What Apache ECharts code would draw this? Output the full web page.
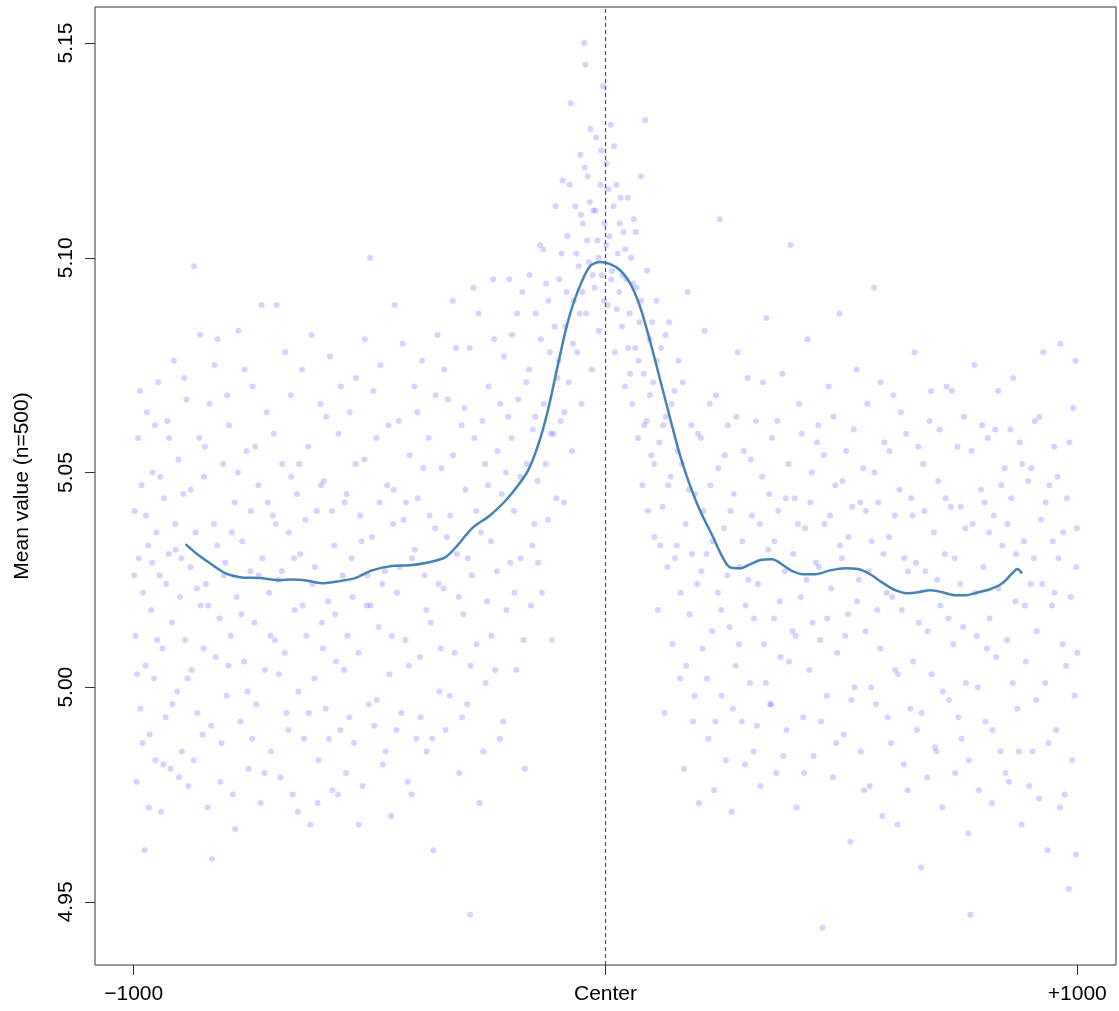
<!DOCTYPE html>
<html>
<head>
<meta charset="utf-8">
<title>Mean value profile</title>
<script src="https://cdn.jsdelivr.net/npm/echarts@6/dist/echarts.min.js"></script>
<style>
  html, body { margin: 0; padding: 0; background: #fff; }
  #main { width: 1119px; height: 1011px; }
</style>
</head>
<body>
<div id="main"></div>
<script>
// x ticks (position from center) and their labels
var xTicks = [-1000, 0, 1000];
var xTickLabels = ['\u22121000', 'Center', '+1000'];
var yTicks = [4.95, 5.00, 5.05, 5.10, 5.15];

// smoothed profile
var lineX = [-890, -868, -839, -805, -775, -733, -690, -663, -637, -601, -563, -531, -495, -453, -415, -373,
    -339, -313, -283, -245, -213, -188, -164, -143, -122, -101, -80, -58, -33, -12, 10, 31, 52, 73, 94, 116,
    137, 158, 179, 200, 226, 247, 264, 285, 306, 328, 353, 374, 396, 419, 444, 476, 508, 535, 561, 586, 614,
    639, 663, 688, 714, 741, 763, 790, 815, 841, 862, 873, 883];
var lineY = [5.0333, 5.0312, 5.0289, 5.0265, 5.0256, 5.0254, 5.0249, 5.0251, 5.0249, 5.0242, 5.0247, 5.0254,
    5.0272, 5.0282, 5.0284, 5.0291, 5.0303, 5.0331, 5.0370, 5.0400, 5.0433, 5.0466, 5.0505, 5.0563, 5.0645,
    5.0750, 5.0850, 5.0924, 5.0980, 5.0990, 5.0985, 5.0971, 5.0941, 5.0887, 5.0808, 5.0715, 5.0626, 5.0540,
    5.0470, 5.0412, 5.0354, 5.0305, 5.0279, 5.0277, 5.0286, 5.0296, 5.0298, 5.0286, 5.0270, 5.0263, 5.0263,
    5.0272, 5.0277, 5.0275, 5.0263, 5.0244, 5.0226, 5.0219, 5.0221, 5.0226, 5.0221, 5.0214, 5.0214, 5.0221,
    5.0228, 5.0242, 5.0265, 5.0275, 5.0265];

// raw points (position, mean value), estimated from the cloud
var pointsA = [
  [-998,5.041],[-996,5.012],[-994,4.978],[-991,5.058],[-989,5.030],[-986,4.995],[-983,5.047],[-980,5.022],[-977,4.962],[-975,5.005],[-972,5.064],[-969,5.033],[-966,4.989],[-963,5.018],[-960,5.050],[-957,5.002],[-954,4.983],[-952,5.036],
  [-948,5.071],[-945,5.026],[-942,4.971],[-939,5.009],[-936,5.044],[-932,4.993],[-929,5.062],[-926,5.031],[-922,4.981],[-919,5.015],[-915,5.076],[-912,5.038],[-908,4.999],[-905,5.053],[-902,5.021],
  [-898,4.985],[-895,5.045],[-891,5.011],[-888,5.067],[-884,4.977],[-880,5.028],[-877,5.004],[-872,5.098],[-869,5.036],[-865,4.994],[-861,5.058],[-858,5.019],[-854,4.989],[-851,5.049],
  [-847,5.024],[-843,4.972],[-839,5.066],[-834,4.960],[-830,5.038],[-826,5.007],[-822,5.081],[-818,5.016],[-814,4.987],[-810,5.052],[-806,5.029],[-803,4.998],
  [-798,5.061],[-794,5.012],[-790,4.975],[-786,5.043],[-782,5.021],[-778,5.083],[-774,4.992],[-770,5.034],[-766,5.006],[-761,5.055],[-757,4.981],[-753,5.027],
  [-748,5.070],[-744,5.015],[-740,4.996],[-736,5.047],[-731,4.973],[-727,5.030],[-722,5.004],[-718,5.064],[-713,5.022],[-709,4.985],[-705,5.040],[-701,5.011],
  [-697,5.089],[-693,5.025],[-689,4.979],[-685,5.052],[-680,5.008],[-676,4.994],[-671,5.036],[-667,5.068],[-663,4.975],[-659,5.018],[-654,5.045],[-651,4.999],
  [-647,5.031],[-643,5.074],[-639,4.988],[-634,5.012],[-630,5.056],[-626,4.968],[-621,5.024],[-617,5.002],[-612,5.041],[-608,4.983],[-604,5.066],[-601,5.015],
  [-597,5.048],[-593,4.995],[-588,5.020],[-584,5.077],[-579,4.976],[-575,5.033],[-571,5.006],[-566,5.059],[-562,4.990],[-557,5.026],[-553,5.043],[-550,4.980],
  [-547,5.012],[-542,5.064],[-538,5.030],[-533,4.987],[-529,5.072],[-524,5.008],[-520,5.040],[-515,4.977],[-511,5.053],[-506,5.019],[-502,4.996],
  [-499,5.100],[-495,5.035],[-490,4.991],[-486,5.058],[-481,5.014],[-477,5.075],[-472,4.982],[-467,5.027],[-463,5.047],[-458,5.003],[-454,4.970],[-450,5.038],
  [-447,5.089],[-442,5.022],[-438,5.062],[-433,4.994],[-428,5.039],[-424,5.011],[-419,4.978],[-415,5.054],[-410,5.030],[-405,5.070],[-401,4.988],
  [-398,5.044],[-393,5.007],[-389,5.076],[-384,5.026],[-379,4.985],[-375,5.058],[-370,5.015],[-365,4.962],[-361,5.037],[-356,5.082],[-352,4.999],
  [-348,5.051],[-343,5.023],[-339,4.990],[-334,5.067],[-329,5.040],[-324,5.090],[-320,5.008],[-315,5.031],[-310,4.980],[-305,5.061],[-301,5.017],
  [-297,5.046],[-293,4.996],[-288,5.079],[-287,4.947],[-283,5.026],[-278,5.058],[-273,5.010],[-269,5.087],[-264,5.036],[-259,4.985],[-255,5.052],[-251,5.020],
  [-248,5.070],[-243,5.034],[-238,5.095],[-234,5.004],[-229,5.055],[-224,4.988],[-220,5.045],[-215,5.077],[-210,5.018],[-206,5.063],[-202,5.029],
  [-198,5.082],[-194,5.041],[-189,5.004],[-185,5.067],[-180,5.030],[-176,5.092],[-171,4.981],[-167,5.052],[-162,5.074],[-158,5.019],[-154,5.060],[-151,5.038],
  [-148,5.087],[-144,5.048],[-139,5.103],[-135,5.022],[-131,5.066],[-126,5.094],[-122,5.039],[-118,5.078],[-114,5.011],[-110,5.059],[-106,5.112],[-102,5.072],
  [-98,5.095],[-95,5.062],[-91,5.118],[-88,5.043],[-85,5.084],[-81,5.105],[-78,5.071],[-74,5.136],[-71,5.055],[-67,5.090],[-64,5.112],[-60,5.078],[-57,5.098],[-53,5.124],[-51,5.066],
  [-48,5.108],[-45,5.150],[-43,5.145],[-41,5.087],[-38,5.119],[-35,5.099],[-32,5.130],[-29,5.074],[-26,5.111],[-23,5.093],[-20,5.128],[-17,5.104],[-14,5.083],[-11,5.117],[-8,5.096],[-5,5.140],[-2,5.108],
  [2,5.122],[5,5.089],[8,5.105],[11,5.131],[14,5.097],[17,5.112],[20,5.078],[23,5.117],[26,5.101],[29,5.092],[32,5.114],[35,5.084],[38,5.106],[41,5.070],[44,5.095],[47,5.114],
  [51,5.087],[54,5.100],[57,5.066],[60,5.109],[63,5.079],[66,5.093],[69,5.058],[72,5.085],[75,5.119],[78,5.047],[81,5.073],[84,5.132],[87,5.062],[90,5.041],[93,5.081],[97,5.054],
  [101,5.071],[104,5.035],[108,5.090],[111,5.018],[114,5.057],[118,5.079],[121,5.042],[125,4.994],[128,5.063],[131,5.028],[135,5.085],[138,5.049],[142,5.010],[146,5.069],
  [151,5.033],[155,5.076],[158,5.002],[162,5.052],[166,4.981],[170,5.038],[174,5.092],[178,5.017],[182,5.061],[186,4.992],[190,5.045],[194,5.024],[198,4.973],
  [202,5.058],[206,5.009],[210,5.083],[214,5.031],[218,4.988],[222,5.047],[226,5.013],[230,4.976],[234,5.068],[238,5.022],[242,5.109],[246,4.998],
  [251,5.037],[255,4.983],[259,5.061],[263,5.014],[267,4.971],[272,5.045],[276,5.005],[280,5.078],[284,5.028],[289,4.992],[293,5.055],[297,5.019],
  [301,5.072],[306,5.001],[310,5.040],[314,4.985],[319,5.062],[323,5.024],[328,4.977],[332,5.049],[336,5.010],[341,5.086],[345,5.032],[349,4.996],
  [353,5.058],[357,5.016],[362,4.980],[366,5.041],[371,5.007],[375,5.073],[380,5.027],[384,4.990],[388,5.052],[392,5.103],[396,5.013],
  [401,5.044],[405,4.972],[410,5.066],[414,5.021],[419,4.993],[423,5.037],[428,5.081],[432,5.004],[437,5.050],[441,4.984],[446,5.029],
  [451,5.061],[455,5.011],[460,4.944],[464,5.038],[469,4.998],[473,5.070],[478,5.023],[482,4.979],[487,5.047],[491,5.008],[496,5.087],
  [501,5.030],[505,4.989],[510,5.055],[514,5.017],[519,4.964],[523,5.042],[528,5.000],[532,5.074],[537,5.025],[541,4.985],[546,5.051],
  [551,5.013],[555,5.066],[560,4.977],[564,5.034],[569,5.093],[573,4.996],[578,5.043],[582,5.009],[587,4.970],[591,5.057],[596,5.022],
  [601,5.035],[605,4.987],[610,5.068],[614,5.004],[619,4.968],[623,5.046],[628,5.018],[632,4.982],[637,5.059],[641,5.027],[646,4.995],
  [651,5.040],[655,5.078],[660,4.990],[664,5.015],[669,4.958],[673,5.052],[678,5.027],[682,4.979],[687,5.062],[691,5.003],[696,5.036],
  [701,4.985],[705,5.048],[710,5.019],[714,4.972],[719,5.031],[723,5.070],[728,4.997],[732,5.042],[737,5.010],[741,4.980],[746,5.056],
  [751,5.024],[755,4.988],[760,5.063],[764,5.001],[769,4.966],[773,4.947],[778,5.038],[782,5.075],[787,5.012],[791,4.976],[796,5.046],
  [801,5.028],[805,4.992],[810,5.058],[814,5.016],[819,4.973],[823,5.040],[828,5.007],[832,5.069],[837,4.985],[841,5.033],[846,5.051],
  [851,5.011],[855,4.978],[860,5.044],[864,5.072],[869,5.020],[873,4.995],[878,5.057],[882,4.968],[887,5.034],[891,5.006],[896,5.048],
  [901,5.024],[905,4.985],[910,5.062],[914,5.013],[919,4.974],[923,5.039],[928,5.078],[932,5.001],[937,4.962],[941,5.047],[946,5.019],
  [951,5.056],[955,4.990],[960,5.030],[964,5.080],[969,5.010],[973,4.975],[978,5.044],[982,4.953],[986,5.021],[991,5.065],[994,4.998],[997,4.961],[999,5.037],[1000,5.008]
];

// more points from the same cloud
var pointsB = [
  [-999,5.026],[-993,5.003],[-987,5.069],[-981,4.987],[-974,5.040],[-968,4.972],[-961,5.029],[-955,5.061],
  [-950,5.011],[-944,5.049],[-937,4.982],[-931,5.024],[-925,5.058],[-918,4.996],[-911,5.032],[-904,4.979],
  [-899,5.030],[-893,5.072],[-886,5.002],[-879,5.046],[-873,4.983],[-866,5.023],[-859,5.082],[-852,5.009],
  [-849,5.056],[-842,5.019],[-836,4.991],[-829,5.075],[-823,5.033],[-816,4.978],[-809,5.026],[-802,5.068],
  [-799,5.005],[-792,5.036],[-785,4.967],[-779,5.050],[-772,5.017],[-765,5.074],[-759,4.999],[-752,5.041],
  [-749,4.988],[-742,5.056],[-735,5.026],[-729,5.089],[-723,4.980],[-716,5.043],[-710,5.012],[-703,5.059],
  [-699,5.038],[-692,5.003],[-686,5.027],[-679,5.078],[-672,4.990],[-666,5.049],[-660,5.030],[-652,4.971],
  [-649,5.052],[-642,5.019],[-636,5.039],[-629,4.994],[-623,5.082],[-616,5.028],[-610,4.973],[-603,5.047],
  [-599,5.009],[-592,5.063],[-586,4.988],[-580,5.041],[-573,5.017],[-567,4.975],[-561,5.070],[-554,5.004],
  [-549,5.045],[-543,4.993],[-536,5.021],[-530,5.052],[-523,4.968],[-517,5.034],[-510,5.081],[-504,5.026],
  [-498,5.019],[-492,5.069],[-485,4.997],[-479,5.043],[-473,5.024],[-466,4.985],[-460,5.061],[-453,5.012],
  [-449,5.046],[-443,4.990],[-436,5.028],[-430,5.080],[-423,5.043],[-417,5.005],[-411,4.975],[-404,5.032],
  [-399,5.064],[-392,4.993],[-386,5.051],[-380,5.018],[-373,5.040],[-367,4.988],[-360,5.068],[-354,5.024],
  [-349,5.009],[-342,5.074],[-336,5.035],[-330,4.998],[-323,5.054],[-317,5.079],[-311,5.021],[-304,4.993],
  [-299,5.065],[-292,5.030],[-286,5.005],[-280,5.093],[-274,5.041],[-267,4.973],[-261,5.062],[-254,5.001],
  [-249,5.047],[-242,5.012],[-236,5.081],[-230,5.027],[-223,5.066],[-217,4.992],[-211,5.050],[-204,5.095],
  [-199,5.058],[-193,5.022],[-187,5.087],[-181,5.049],[-174,5.011],[-168,5.071],[-161,5.096],[-155,5.033],
  [-149,5.063],[-143,5.029],[-137,5.081],[-132,5.102],[-127,5.052],[-121,5.090],[-116,5.059],[-108,5.084],[-104,5.044],
  [-99,5.076],[-93,5.101],[-87,5.064],[-83,5.092],[-76,5.117],[-69,5.080],[-62,5.101],[-55,5.087],[-52,5.110],
  [-49,5.092],[-44,5.121],[-39,5.104],[-33,5.113],[-27,5.096],[-21,5.111],[-15,5.100],[-9,5.125],[-3,5.090],
  [1,5.103],[6,5.116],[12,5.095],[18,5.126],[24,5.088],[30,5.108],[36,5.096],[42,5.102],[48,5.079],
  [52,5.073],[58,5.094],[64,5.106],[70,5.076],[76,5.090],[82,5.061],[88,5.097],[94,5.068],[99,5.085],
  [103,5.052],[109,5.076],[116,5.033],[122,5.061],[127,5.082],[133,5.047],[140,5.066],[147,5.030],
  [153,5.055],[159,5.022],[164,5.071],[171,5.005],[177,5.046],[183,5.031],[189,4.998],[196,5.059],
  [203,5.027],[208,5.041],[215,5.002],[221,5.066],[227,5.034],[233,4.992],[239,5.051],[245,5.018],
  [253,5.054],[258,5.026],[265,5.041],[270,4.995],[277,5.063],[283,5.010],[290,5.034],[296,4.982],
  [303,5.025],[308,5.053],[315,5.016],[321,4.991],[327,5.038],[334,5.071],[340,5.001],[347,5.045],
  [351,4.996],[358,5.034],[364,5.062],[369,5.020],[377,4.984],[382,5.044],[389,5.006],[398,5.031],
  [403,5.012],[408,5.038],[416,5.059],[421,4.980],[426,5.025],[434,5.043],[439,5.015],[448,5.057],
  [452,5.028],[457,4.992],[463,5.054],[470,5.016],[476,5.040],[483,5.063],[489,4.987],[497,5.033],
  [502,5.048],[508,5.012],[515,5.035],[521,4.997],[526,5.060],[533,5.020],[540,5.043],[548,4.976],
  [552,5.041],[558,5.027],[563,5.000],[570,5.050],[576,5.018],[583,5.071],[589,5.031],[598,4.993],
  [602,5.055],[608,5.021],[613,5.040],[620,5.003],[626,5.064],[633,5.030],[640,4.976],[648,5.044],
  [652,5.006],[658,5.029],[663,5.056],[670,4.994],[676,5.041],[683,5.013],[690,5.069],[698,4.986],
  [703,5.025],[708,5.060],[715,4.999],[721,5.044],[727,5.016],[734,5.069],[740,5.030],[748,4.993],
  [753,5.042],[758,5.014],[763,5.037],[770,4.983],[776,5.055],[783,5.022],[789,5.000],[798,5.061],
  [803,5.043],[808,5.009],[813,5.036],[820,4.990],[826,5.060],[833,5.023],[839,5.047],[848,4.980],
  [852,5.038],[858,5.060],[863,5.001],[870,5.031],[876,4.985],[883,5.052],[889,5.019],[898,4.977],
  [902,5.051],[908,5.030],[913,4.997],[920,5.063],[926,5.024],[933,5.043],[939,4.987],[948,5.034],
  [952,5.022],[958,5.049],[963,4.972],[970,5.036],[976,5.005],[983,5.057],[989,4.983],[996,5.076],[998,5.028]
];

var labelFont = { fontFamily: 'Liberation Sans', fontSize: 21, color: '#000' };

var myChart = echarts.init(document.getElementById('main'));

var lineData = lineX.map(function (x, i) { return [x, lineY[i]]; });

var option = {
    animation: false,
    backgroundColor: '#fff',
    grid: {
        left: 95, right: 3, top: 7, bottom: 46,
        show: true, borderColor: '#333', borderWidth: 1, backgroundColor: 'transparent'
    },
    xAxis: {
        type: 'value',
        min: -1082, max: 1082,
        splitLine: { show: false },
        axisLine: { show: false, onZero: false },
        axisTick: { show: true, length: 10, customValues: xTicks, lineStyle: { color: '#333' } },
        axisLabel: {
            customValues: xTicks,
            margin: 19,
            fontFamily: labelFont.fontFamily, fontSize: labelFont.fontSize, color: labelFont.color,
            formatter: function (v) {
                var i = xTicks.indexOf(v);
                return i >= 0 ? xTickLabels[i] : '';
            }
        }
    },
    yAxis: {
        type: 'value',
        min: 4.9353, max: 5.1584,
        name: 'Mean value (n=500)',
        nameLocation: 'middle',
        nameGap: 62,
        nameTextStyle: { fontFamily: labelFont.fontFamily, fontSize: labelFont.fontSize, color: labelFont.color },
        splitLine: { show: false },
        axisLine: { show: false, onZero: false },
        axisTick: { show: true, length: 10, customValues: yTicks, lineStyle: { color: '#333' } },
        axisLabel: {
            customValues: yTicks,
            rotate: 90,
            margin: 18,
            fontFamily: labelFont.fontFamily, fontSize: labelFont.fontSize, color: labelFont.color,
            formatter: function (v) { return v.toFixed(2); }
        }
    },
    series: [
        {
            name: 'points',
            type: 'scatter',
            data: pointsA.concat(pointsB),
            symbolSize: 6,
            itemStyle: { color: 'rgba(105,105,250,0.36)' },
            markLine: {
                silent: true,
                symbol: 'none',
                label: { show: false },
                lineStyle: { type: [4, 3], color: '#555', width: 1.2 },
                data: [{ xAxis: 0 }]
            }
        },
        {
            name: 'profile',
            type: 'line',
            data: lineData,
            smooth: 0.3,
            showSymbol: false,
            lineStyle: { color: '#4682B4', width: 2.5 }
        }
    ]
};

myChart.setOption(option);
</script>
</body>
</html>
